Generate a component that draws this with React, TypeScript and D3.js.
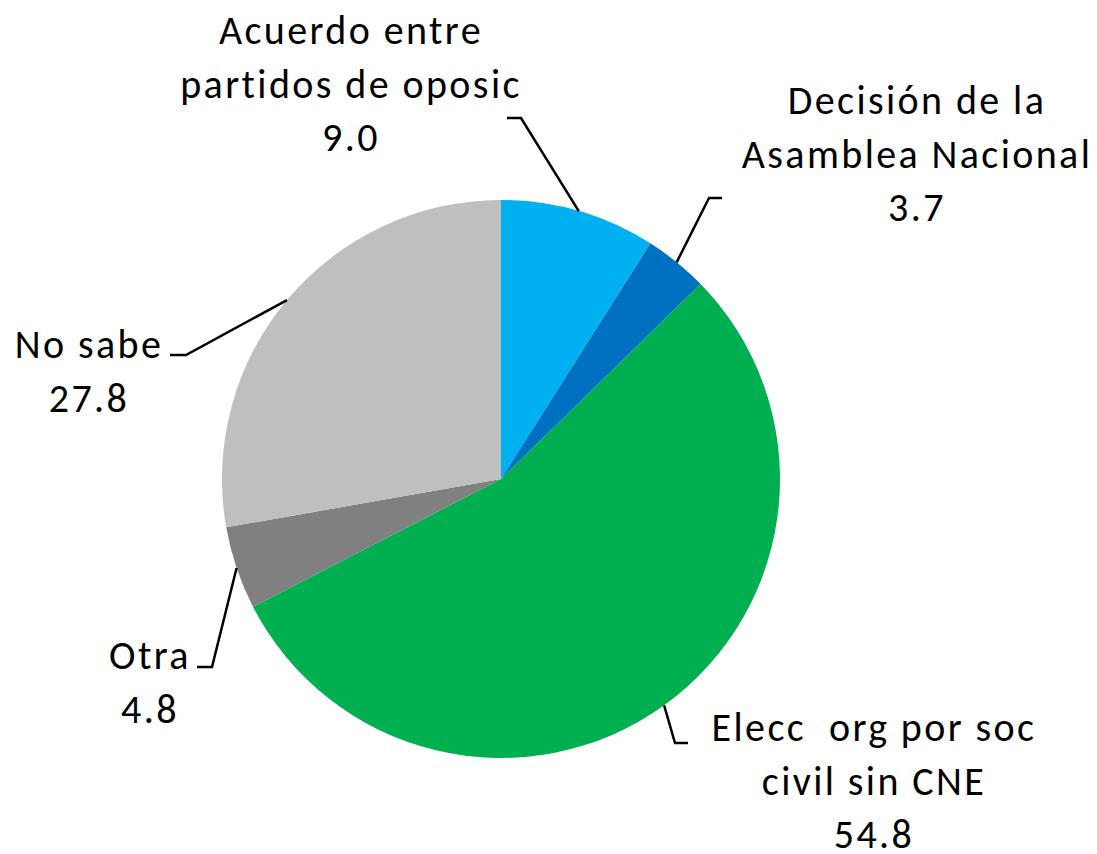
import React from "react";
import * as d3 from "d3";

const categories = [
  "Acuerdo entre partidos de oposic",
  "Decisión de la Asamblea Nacional",
  "Elecc  org por soc civil sin CNE",
  "Otra",
  "No sabe",
];
const values = [9.0, 3.7, 54.8, 4.8, 27.8];
const valueLabels = ["9.0", "3.7", "54.8", "4.8", "27.8"];
const colors = ["#00B0F0", "#0070C0", "#00B050", "#808080", "#BFBFBF"];

// label layout: text lines, center x, first baseline y, leader (start angle deg, elbow, end x)
const labelLines = [
  ["Acuerdo entre", "partidos de oposic"],
  ["Decisión de la", "Asamblea Nacional"],
  ["Elecc  org por soc", "civil sin CNE"],
  ["Otra"],
  ["No sabe"],
];
const labelPos = [
  { x: 351, y: 44 },
  { x: 917, y: 114 },
  { x: 874, y: 741 },
  { x: 150, y: 669 },
  { x: 89, y: 358 },
];
const leaders = [
  { angle: null as number | null, ex: 521, ey: 118, hx: 507 },
  { angle: null as number | null, ex: 709, ey: 198, hx: 722 },
  { angle: null as number | null, ex: 675, ey: 743, hx: 688 },
  { angle: null as number | null, ex: 212, ey: 667, hx: 197 },
  { angle: 309.9 as number | null, ex: 186, ey: 355, hx: 170 },
];

const W = 1097;
const H = 854;
const cx = 501;
const cy = 479;
const R = 279;
const lineH = 53.5;
const FONT = "Carlito, Calibri, Lato, sans-serif";

export default function App() {
  const pie = d3.pie<number>().sort(null).value((d) => d);
  const arcs = pie(values);
  const arc = d3.arc<d3.PieArcDatum<number>>().innerRadius(0).outerRadius(R);
  return (
    <svg width={W} height={H} style={{ position: "absolute", left: 0, top: 0 }}>
      <rect width={W} height={H} fill="#fff" />
      <g transform={`translate(${cx},${cy})`}>
        {arcs.map((a, i) => (
          <path key={i} d={arc(a) || ""} fill={colors[i]} />
        ))}
      </g>
      {arcs.map((a, i) => {
        const L = leaders[i];
        const ang = L.angle !== null ? (L.angle * Math.PI) / 180 : (a.startAngle + a.endAngle) / 2;
        const sx = cx + R * Math.sin(ang);
        const sy = cy - R * Math.cos(ang);
        return (
          <polyline
            key={i}
            points={`${sx},${sy} ${L.ex},${L.ey} ${L.hx},${L.ey}`}
            fill="none"
            stroke="#000"
            strokeWidth={2.5}
          />
        );
      })}
      {categories.map((c, i) => {
        const lines = [...labelLines[i], valueLabels[i]];
        return (
          <text
            key={c}
            x={labelPos[i].x}
            y={labelPos[i].y}
            textAnchor="middle"
            fontFamily={FONT}
            fontSize={40}
            letterSpacing={2.4}
            fill="#000"
          >
            {lines.map((l, j) => (
              <tspan key={j} x={labelPos[i].x} dy={j === 0 ? 0 : lineH} xmlSpace="preserve">
                {l}
              </tspan>
            ))}
          </text>
        );
      })}
    </svg>
  );
}
